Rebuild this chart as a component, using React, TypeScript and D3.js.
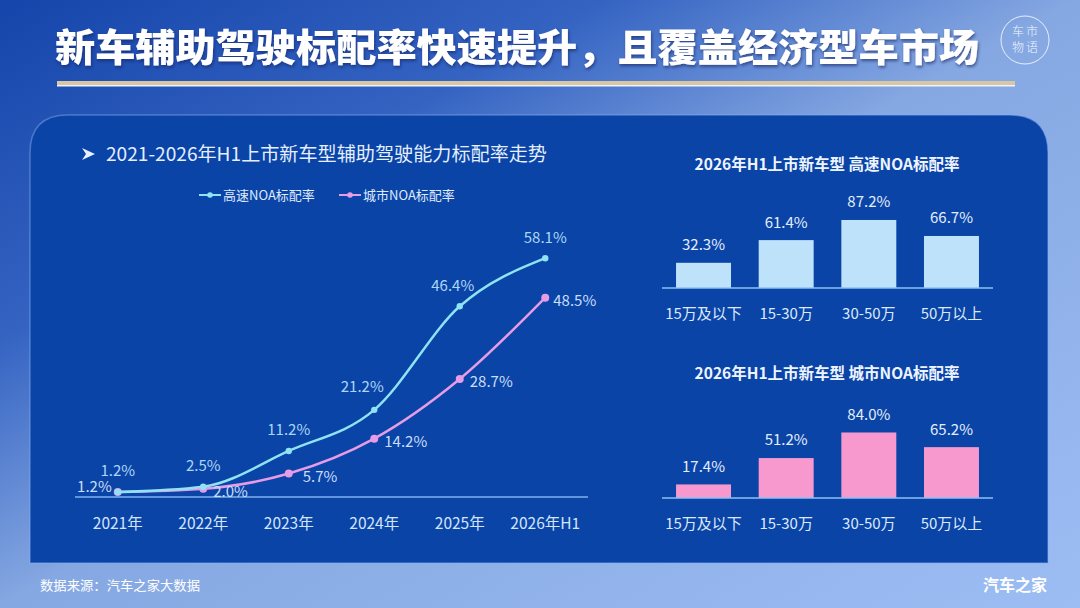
import { useEffect, useRef } from "react"
import * as d3 from "d3"

// 折线图数据
const years = ["2021年", "2022年", "2023年", "2024年", "2025年", "2026年H1"]
const highwayRate = [1.2, 2.5, 11.2, 21.2, 46.4, 58.1]
const cityRate = [1.2, 2.0, 5.7, 14.2, 28.7, 48.5]

// 柱状图数据
const priceBands = ["15万及以下", "15-30万", "30-50万", "50万以上"]
const highwayByPrice = [32.3, 61.4, 87.2, 66.7]
const cityByPrice = [17.4, 51.2, 84.0, 65.2]

const seriesNames = ["高速NOA标配率", "城市NOA标配率"]

const W = 1080
const H = 608
const FONT = "'Noto Sans CJK SC', 'Noto Sans', sans-serif"

// 标签微调
const hwLabelDx = [0, 0, 0, -12, -7, 0]
const cityLabelDx = [-6, 10, 14, 10, 10, 8]

export default function App() {
  const svgRef = useRef<SVGSVGElement>(null)

  useEffect(() => {
    if (!svgRef.current) return
    const svg = d3.select(svgRef.current)
    svg.selectAll("*").remove()
    svg.attr("width", W).attr("height", H)

    const defs = svg.append("defs")
    const bg = defs
      .append("linearGradient")
      .attr("id", "bg")
      .attr("x1", 0)
      .attr("y1", 0)
      .attr("x2", 1)
      .attr("y2", 1)
    bg.append("stop").attr("offset", "0%").attr("stop-color", "#1545aa")
    bg.append("stop").attr("offset", "28%").attr("stop-color", "#3463c2")
    bg.append("stop").attr("offset", "50%").attr("stop-color", "#86a8e2")
    bg.append("stop").attr("offset", "100%").attr("stop-color", "#9cbdf4")

    const shadow = defs.append("filter").attr("id", "shadow").attr("x", "-5%").attr("y", "-30%").attr("width", "110%").attr("height", "160%")
    shadow
      .append("feDropShadow")
      .attr("dx", 1)
      .attr("dy", 2)
      .attr("stdDeviation", 1.5)
      .attr("flood-color", "#0a1f5c")
      .attr("flood-opacity", 0.6)

    svg.append("rect").attr("width", W).attr("height", H).attr("fill", "url(#bg)")

    // 标题
    svg
      .append("text")
      .attr("x", 55)
      .attr("y", 47)
      .attr("dy", "0.36em")
      .attr("textLength", 924)
      .attr("lengthAdjust", "spacingAndGlyphs")
      .style("font-family", FONT)
      .style("font-weight", 900)
      .style("font-size", "38px")
      .style("fill", "#ffffff")
      .attr("filter", "url(#shadow)")
      .text("新车辅助驾驶标配率快速提升，且覆盖经济型车市场")

    svg.append("rect").attr("x", 57).attr("y", 81).attr("width", 958).attr("height", 4).attr("fill", "#d8c7a2")
    svg.append("rect").attr("x", 57).attr("y", 85).attr("width", 958).attr("height", 1.5).attr("fill", "#eef2fb")

    // logo
    const logo = svg.append("g").attr("transform", "translate(1025,40)")
    logo.append("circle").attr("r", 24).attr("fill", "none").attr("stroke", "rgba(255,255,255,0.8)").attr("stroke-width", 1)
    const logoChars = [
      { t: "车", x: -7, y: -8 },
      { t: "市", x: 7, y: -8 },
      { t: "物", x: -7, y: 8 },
      { t: "语", x: 7, y: 8 },
    ]
    logo
      .selectAll("text")
      .data(logoChars)
      .enter()
      .append("text")
      .attr("x", (d) => d.x)
      .attr("y", (d) => d.y)
      .attr("dy", "0.36em")
      .attr("text-anchor", "middle")
      .style("font-family", FONT)
      .style("font-size", "12px")
      .style("font-weight", 300)
      .style("fill", "rgba(255,255,255,0.9)")
      .text((d) => d.t)

    // 面板
    const px0 = 30, px1 = 1048, py0 = 115, py1 = 563, r = 38
    svg
      .append("path")
      .attr(
        "d",
        `M${px0},${py1} L${px0},${py0 + r} Q${px0},${py0} ${px0 + r},${py0} L${px1 - r},${py0} Q${px1},${py0} ${px1},${py0 + r} L${px1},${py1} Z`
      )
      .attr("fill", "#0a44a7")
      .attr("stroke", "rgba(140,175,240,0.45)")
      .attr("stroke-width", 1.5)

    // 页脚
    svg
      .append("text")
      .attr("x", 40)
      .attr("y", 585)
      .attr("dy", "0.36em")
      .attr("textLength", 160)
      .attr("lengthAdjust", "spacingAndGlyphs")
      .style("font-family", FONT)
      .style("font-size", "13px")
      .style("fill", "#ffffff")
      .text("数据来源：汽车之家大数据")
    svg
      .append("text")
      .attr("x", 1047)
      .attr("y", 585)
      .attr("dy", "0.36em")
      .attr("text-anchor", "end")
      .style("font-family", FONT)
      .style("font-size", "16px")
      .style("font-weight", 700)
      .style("fill", "#ffffff")
      .text("汽车之家")

    // 折线图
    svg
      .append("path")
      .attr("d", "M82,148 L95,154 L82,160 L86,154 Z")
      .attr("fill", "#e8f1ff")
    svg
      .append("text")
      .attr("x", 106)
      .attr("y", 154)
      .attr("dy", "0.36em")
      .attr("textLength", 441)
      .attr("lengthAdjust", "spacingAndGlyphs")
      .style("font-family", FONT)
      .style("font-size", "19px")
      .style("fill", "#e4efff")
      .text("2021-2026年H1上市新车型辅助驾驶能力标配率走势")

    const hwColor = "#8fe3f2"
    const cityColor = "#e69ce6"

    // 图例
    const legend = svg.append("g")
    const legendItems = [
      { name: seriesNames[0], color: hwColor, x: 199 },
      { name: seriesNames[1], color: cityColor, x: 339 },
    ]
    legendItems.forEach((it) => {
      legend.append("line").attr("x1", it.x).attr("x2", it.x + 22).attr("y1", 195).attr("y2", 195).attr("stroke", it.color).attr("stroke-width", 2)
      legend.append("circle").attr("cx", it.x + 11).attr("cy", 195).attr("r", 2.8).attr("fill", it.color)
      legend
        .append("text")
        .attr("x", it.x + 24)
        .attr("y", 195)
        .attr("dy", "0.36em")
        .style("font-family", FONT)
        .style("font-size", "13px")
        .style("fill", "#dfeafc")
        .text(it.name)
    })

    const x = d3.scalePoint<string>().domain(years).range([75, 588]).padding(0.5)
    const y = d3.scaleLinear().domain([0, 60]).range([497, 250.4])

    svg.append("line").attr("x1", 75).attr("x2", 588).attr("y1", 497).attr("y2", 497).attr("stroke", "#7fb0ee").attr("stroke-width", 1.5)

    svg
      .append("g")
      .selectAll("text")
      .data(years)
      .enter()
      .append("text")
      .attr("x", (d) => x(d)!)
      .attr("y", 523)
      .attr("dy", "0.36em")
      .attr("text-anchor", "middle")
      .style("font-family", FONT)
      .style("font-size", "15.5px")
      .style("fill", "#d3e5fc")
      .text((d) => d)

    const line = d3
      .line<number>()
      .x((_, i) => x(years[i])!)
      .y((d) => y(d))
      .curve(d3.curveMonotoneX)

    const drawSeries = (values: number[], color: string, rad: number) => {
      svg.append("path").datum(values).attr("d", line).attr("fill", "none").attr("stroke", color).attr("stroke-width", 2.5)
      svg
        .append("g")
        .selectAll("circle")
        .data(values)
        .enter()
        .append("circle")
        .attr("cx", (_, i) => x(years[i])!)
        .attr("cy", (d) => y(d))
        .attr("r", rad)
        .attr("fill", color)
    }
    drawSeries(cityRate, cityColor, 4)
    drawSeries(highwayRate, hwColor, 3.2)

    const fmt = (v: number) => `${v.toFixed(1)}%`

    svg
      .append("g")
      .selectAll("text")
      .data(highwayRate)
      .enter()
      .append("text")
      .attr("x", (_, i) => x(years[i])! + hwLabelDx[i])
      .attr("y", (d, i) => y(d) - (i === 3 ? 23 : 21))
      .attr("dy", "0.36em")
      .attr("text-anchor", "middle")
      .style("font-family", FONT)
      .style("font-size", "15px")
      .style("fill", "#acd6f6")
      .text(fmt)

    svg
      .append("g")
      .selectAll("text")
      .data(cityRate)
      .enter()
      .append("text")
      .attr("x", (_, i) => x(years[i])! + cityLabelDx[i])
      .attr("y", (d, i) => y(d) + (i === 0 ? -5 : 3))
      .attr("dy", "0.36em")
      .attr("text-anchor", (_, i) => (i === 0 ? "end" : "start"))
      .style("font-family", FONT)
      .style("font-size", "15px")
      .style("fill", "#c9def9")
      .text(fmt)

    // 柱状图
    const bx = d3.scaleBand<string>().domain(priceBands).range([662, 993]).paddingInner(0.335).paddingOuter(0.17)
    const bh = d3.scaleLinear().domain([0, 100]).range([0, 78])

    const drawBars = (title: string, values: number[], color: string, base: number, titleY: number) => {
      const g = svg.append("g")
      g.append("text")
        .attr("x", 827)
        .attr("y", titleY)
        .attr("dy", "0.36em")
        .attr("text-anchor", "middle")
        .style("font-family", FONT)
        .style("font-size", "15.5px")
        .style("font-weight", 700)
        .style("fill", "#eef4ff")
        .text(title)
      g.selectAll("rect")
        .data(values)
        .enter()
        .append("rect")
        .attr("x", (_, i) => bx(priceBands[i])!)
        .attr("width", bx.bandwidth())
        .attr("y", (d) => base - bh(d))
        .attr("height", (d) => bh(d))
        .attr("fill", color)
      g.append("line").attr("x1", 662).attr("x2", 993).attr("y1", base).attr("y2", base).attr("stroke", "#8cc0f2").attr("stroke-width", 1.5)
      g.selectAll(".val")
        .data(values)
        .enter()
        .append("text")
        .attr("class", "val")
        .attr("x", (_, i) => bx(priceBands[i])! + bx.bandwidth() / 2)
        .attr("y", (d) => base - bh(d) - 18)
        .attr("dy", "0.36em")
        .attr("text-anchor", "middle")
        .style("font-family", FONT)
        .style("font-size", "15px")
        .style("fill", "#e3eefc")
        .text(fmt)
      g.selectAll(".cat")
        .data(priceBands)
        .enter()
        .append("text")
        .attr("class", "cat")
        .attr("x", (d) => bx(d)! + bx.bandwidth() / 2)
        .attr("y", base + 26)
        .attr("dy", "0.36em")
        .attr("text-anchor", "middle")
        .style("font-family", FONT)
        .style("font-size", "15px")
        .style("fill", "#dce9fc")
        .text((d) => d)
    }

    drawBars("2026年H1上市新车型 高速NOA标配率", highwayByPrice, "#bfe2fb", 288, 164)
    drawBars("2026年H1上市新车型 城市NOA标配率", cityByPrice, "#f799cf", 498, 373)
  }, [])

  return (
    <div style={{ position: "fixed", left: 0, top: 0 }}>
      <svg ref={svgRef} style={{ display: "block" }} />
    </div>
  )
}
